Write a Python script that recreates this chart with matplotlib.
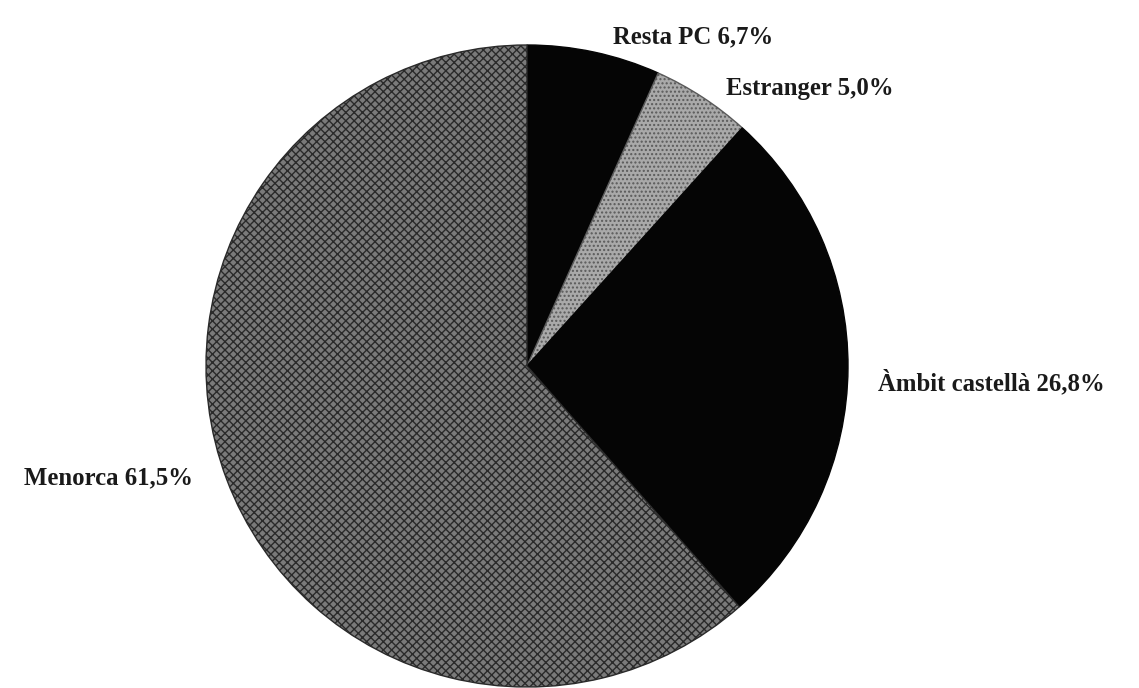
import matplotlib
matplotlib.use("Agg")
import matplotlib.pyplot as plt

categories = ["Resta PC", "Estranger", "Àmbit castellà", "Menorca"]
values = [6.7, 5.0, 26.8, 61.5]

facecolors = ["#050505", "#a9a9a9", "#050505", "#7a7a7a"]
hatchcols = ["#050505", "#5a5a5a", "#050505", "#2a2a2a"]
hatches = [None, "....", None, "xxxx"]
label_px = [(693, 37), (810, 88), (991, 382), (109, 478)]

W, H = 1139, 688
fig = plt.figure(figsize=(W / 100, H / 100), dpi=100)
ax = fig.add_axes([0, 0, 1, 1])

wedges, _ = ax.pie(values, startangle=90, counterclock=False,
                   center=(527, H - 366), radius=321,
                   colors=facecolors,
                   wedgeprops=dict(linewidth=1.0))
plt.rcParams['hatch.linewidth'] = 1.2
for w, fc, hc, h in zip(wedges, facecolors, hatchcols, hatches):
    w.set_facecolor(fc)
    w.set_edgecolor(hc)
    if h:
        w.set_hatch(h)

for name, v, (px, py) in zip(categories, values, label_px):
    txt = f"{name} {v:.1f}%".replace(".", ",")
    ax.text(px, H - py, txt, ha="center", va="center",
            fontsize=17.8, fontweight="bold",
            family="Liberation Serif", color="#1a1a1a")

ax.set_xlim(0, W)
ax.set_ylim(0, H)
ax.set_aspect("equal")
ax.set_axis_off()
fig.savefig("out.png", dpi=100, facecolor="white")
